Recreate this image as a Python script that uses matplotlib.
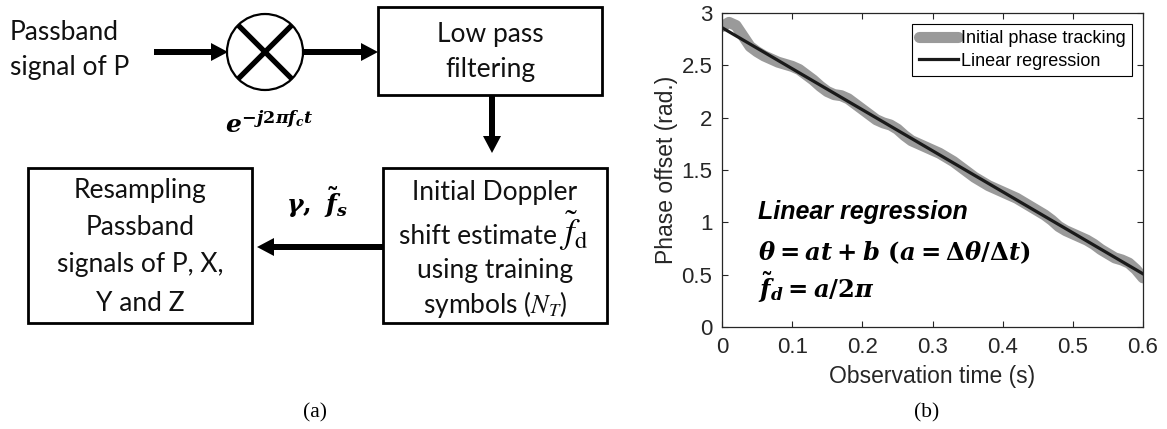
import numpy as np
import matplotlib
matplotlib.use("Agg")
import matplotlib.pyplot as plt
from matplotlib.patches import Rectangle, Circle

# bold italic serif for the equations
plt.rcParams['mathtext.fontset'] = 'custom'
plt.rcParams['mathtext.it'] = 'DejaVu Serif:italic:bold'
plt.rcParams['mathtext.rm'] = 'DejaVu Serif:bold'
plt.rcParams['mathtext.bf'] = 'DejaVu Serif:bold'

# initial phase tracking samples
obs_time = np.round(np.arange(0, 0.601, 0.01), 2)
phase_offset = [2.87, 2.91, 2.88, 2.78, 2.68, 2.63, 2.59, 2.56, 2.53, 2.51,
                2.49, 2.46, 2.41, 2.36, 2.30, 2.25, 2.22, 2.21, 2.18, 2.13,
                2.08, 2.03, 1.98, 1.95, 1.93, 1.89, 1.83, 1.78, 1.75, 1.72,
                1.69, 1.66, 1.62, 1.58, 1.53, 1.48, 1.43, 1.39, 1.35, 1.32,
                1.29, 1.26, 1.23, 1.19, 1.15, 1.11, 1.07, 1.02, 0.96, 0.92,
                0.89, 0.86, 0.83, 0.79, 0.74, 0.70, 0.66, 0.64, 0.61, 0.55,
                0.47]
# linear regression theta = a*t + b
fit_b = 2.86
fit_a = -3.92

x_ticks = [0, 0.1, 0.2, 0.3, 0.4, 0.5, 0.6]
x_tick_labels = ["0", "0.1", "0.2", "0.3", "0.4", "0.5", "0.6"]
y_ticks = [0, 0.5, 1, 1.5, 2, 2.5, 3]
y_tick_labels = ["0", "0.5", "1", "1.5", "2", "2.5", "3"]

fig = plt.figure(figsize=(11.67, 4.29), dpi=100)

# ---- (a) block diagram, drawn in pixel units ----
dg = fig.add_axes([0, 0, 1, 1])
dg.set_xlim(0, 1167)
dg.set_ylim(429, 0)
dg.axis('off')

blk = dict(family='Lato', fontsize=19, color='#111111')
box_lw = 2.0

def box(x0, y0, x1, y1):
    dg.add_patch(Rectangle((x0, y0), x1 - x0, y1 - y0, fill=False,
                           lw=box_lw, ec='black'))

def arrow(x0, y0, x1, y1):
    dg.arrow(x0, y0, x1 - x0, y1 - y0, width=6, head_width=18,
             head_length=17, length_includes_head=True, color='black', lw=0)

dg.text(10, 40, "Passband", ha='left', va='baseline', **blk)
dg.text(10, 75, "signal of P", ha='left', va='baseline', **blk)
arrow(154, 52, 228, 52)

# mixer
cx, cy, r = 265, 52, 38
dg.add_patch(Circle((cx, cy), r, fill=False, lw=1.6, ec='black'))
d = r * np.cos(np.pi / 4)
dg.plot([cx - d, cx + d], [cy - d, cy + d], color='black', lw=3.8,
        solid_capstyle='butt')
dg.plot([cx - d, cx + d], [cy + d, cy - d], color='black', lw=3.8,
        solid_capstyle='butt')
dg.text(269, 133, r"$e^{-j2\pi f_c t}$", ha='center', va='baseline',
        fontsize=18)
arrow(303, 52, 378, 52)

box(378, 7, 602, 95)
dg.text(490, 42, "Low pass", ha='center', va='baseline', **blk)
dg.text(490, 77, "filtering", ha='center', va='baseline', **blk)
arrow(492, 96, 492, 153)

box(383, 168, 607, 323)
dg.text(495, 200, "Initial Doppler", ha='center', va='baseline', **blk)
dg.text(557, 244, "shift estimate", ha='right', va='baseline', **blk)
dg.text(559, 244, r"$\tilde{f}_{\mathrm{d}}$", ha='left', va='baseline',
        math_fontfamily='stix', fontsize=25)
dg.text(495, 278, "using training", ha='center', va='baseline', **blk)
dg.text(495, 313, r"symbols ($N_T$)", ha='center', va='baseline',
        math_fontfamily='stix', **blk)

arrow(383, 247, 257, 247)
dg.text(317, 213, r"$\gamma,\ \tilde{f}_s$", ha='center', va='baseline',
        fontsize=18)

box(28, 168, 252, 323)
dg.text(140, 198, "Resampling", ha='center', va='baseline', **blk)
dg.text(140, 235, "Passband", ha='center', va='baseline', **blk)
dg.text(140, 272, "signals of P, X,", ha='center', va='baseline', **blk)
dg.text(140, 311, "Y and Z", ha='center', va='baseline', **blk)

dg.text(315, 413, "(a)", ha='center', va='center', family='Liberation Serif',
        fontsize=15.5)
dg.text(927, 413, "(b)", ha='center', va='center', family='Liberation Serif',
        fontsize=15.5)

# ---- (b) phase offset vs observation time ----
W, H = 1167, 429
ax = fig.add_axes([722 / W, 1 - 327 / H, (1143 - 722) / W, (327 - 13) / H])
t = np.array(obs_time)
ax.plot(t, phase_offset, color='#9a9a9a', lw=8,
        solid_capstyle='round', label='Initial phase tracking')
ax.plot(t, fit_a * t + fit_b, color='#1a1a1a', lw=2.3,
        label='Linear regression')

ax.set_xlim(0, 0.6)
ax.set_ylim(0, 3)
ax.set_xticks(x_ticks, x_tick_labels)
ax.set_yticks(y_ticks, y_tick_labels)
for lab in ax.get_xticklabels() + ax.get_yticklabels():
    lab.set_family('Liberation Sans')
ax.tick_params(direction='in', length=4, width=0.8, top=True, right=True,
               labelsize=16, colors='#262626', pad=7)
for s in ax.spines.values():
    s.set_linewidth(0.9)
    s.set_color('#262626')
ax.set_xlabel("Observation time (s)", family='Liberation Sans',
              fontsize=16.5, color='#262626', labelpad=5)
ax.set_ylabel("Phase offset (rad.)", family='Liberation Sans',
              fontsize=16.5, color='#262626', labelpad=2)

leg = ax.legend(loc='upper right', prop={'family': 'Liberation Sans',
                                         'size': 13},
                fancybox=False, framealpha=1, edgecolor='black',
                handlelength=2.2, handletextpad=0.15, labelspacing=0.3,
                borderaxespad=0.6, borderpad=0.35)
leg.get_frame().set_linewidth(0.8)

ax.text(0.0855, 0.344, "Linear regression", transform=ax.transAxes,
        ha='left', va='baseline', family='Liberation Sans',
        weight='bold', style='italic', fontsize=18)
ax.text(0.0855, 0.213, r"$\theta = at + b\ (a = \Delta\theta/\Delta t)$",
        transform=ax.transAxes, ha='left', va='baseline', fontsize=17.5)
ax.text(0.0855, 0.092, r"$\tilde{f}_d = a/2\pi$",
        transform=ax.transAxes, ha='left', va='baseline', fontsize=17.5)

fig.savefig("out.png", dpi=100)
